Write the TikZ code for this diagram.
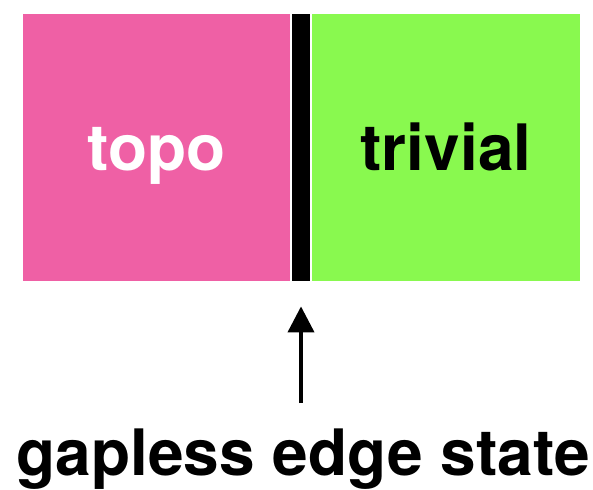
\documentclass[tikz,border=0pt]{standalone}
\usepackage{fontspec}
\setmainfont{TeX Gyre Heros}
\usepackage{xcolor}
\definecolor{topopink}{RGB}{239,96,165}
\definecolor{trivgreen}{RGB}{137,249,79}
\usetikzlibrary{arrows.meta}
\usetikzlibrary{positioning}

\tikzset{
	phase/.style={minimum width=133.5pt, minimum height=133.5pt, inner sep=0pt,
		text height=23pt, text depth=0pt, font=\fontsize{32}{36}\selectfont\bfseries},
	edgebar/.style={fill=black, minimum width=9pt, minimum height=133.5pt, inner sep=0pt}
}

\begin{document}
\begin{tikzpicture}[x=0.5pt, y=-0.5pt]
		\useasboundingbox (0,0) rectangle (593,489);
		
		%draw the two phases and the edge between them
		\node[phase, fill=topopink, text=white] (topo) at (156.5,147.5) {topo};
		\node[edgebar] (edge) at (301,147.5) {};
		\node[phase, fill=trivgreen, text=black, minimum width=134pt] (trivial) at (446,147.5) {trivial};
		
		%arrow pointing at the edge
		\coordinate (foot) at (301,403);
		\draw[line width=2pt, -{Triangle[length=13pt, width=13pt]}, shorten >=12.5pt] (foot) -- (edge.south);
		
		%caption
		\node[anchor=base, inner sep=0pt, font=\fontsize{32}{36}\selectfont\bfseries] (caption) at (303,475) {gapless edge state};
	\end{tikzpicture}
\end{document}
